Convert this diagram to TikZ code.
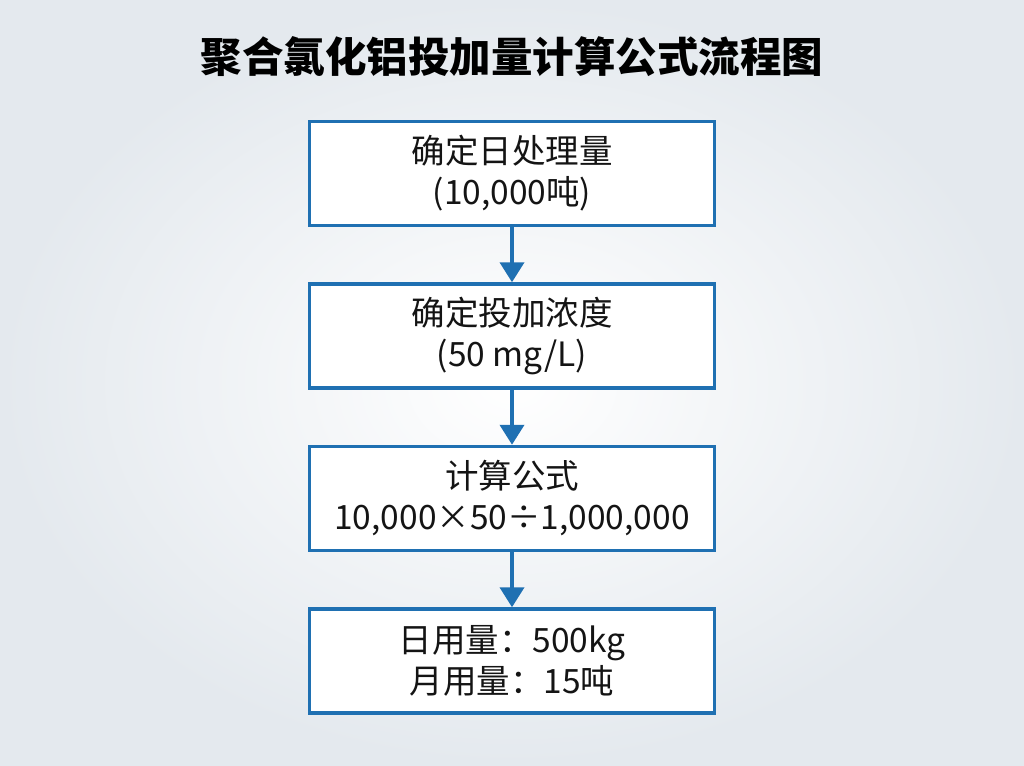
\documentclass[tikz,border=0pt]{standalone}
\usepackage{fontspec}
\newfontfamily\cjk{Noto Sans CJK SC}
\usepackage{tikz}
\usetikzlibrary{arrows.meta,positioning}
\definecolor{flowblue}{RGB}{31,112,178}
\definecolor{flowtext}{RGB}{20,20,20}
\definecolor{bgedge}{RGB}{228,233,238}
\tikzset{
  flow_text/.style = {align=center, inner sep=0pt, text centered,
    font=\cjk\fontsize{33.5}{41}\selectfont, text=flowtext},
  flow_box/.style = {flow_text, rectangle, draw=flowblue, line width=3.5pt,
    fill=white, minimum width=405pt, minimum height=104pt},% step box
  flow_title/.style = {flow_text, font=\cjk\bfseries\fontsize{41.5}{48}\selectfont,
    text=black}% heading
}
\begin{document}
\begin{tikzpicture}[x=1pt,y=-1pt,node distance=55pt,
  -{Triangle[width=24pt,length=20pt]},line width=4pt,draw=flowblue]
\useasboundingbox (0,0) rectangle (1024,765);
\shade[inner color=white,outer color=bgedge,draw=none] (0,0) rectangle (1024,765);
\node [flow_title] (title) at (512,57) {聚合氯化铝投加量计算公式流程图};
\node [flow_box] (daily) at (512,173.5) {确定日处理量\\(10,000吨)};
\node [flow_box, below=of daily] (dose) {确定投加浓度\\(50 mg/L)};
\node [flow_box, below=of dose] (formula) {计算公式\\10,000×50÷1,000,000};
\node [flow_box, below=of formula] (result) {日用量：500kg\\月用量：15吨};
% connectors
\draw [flowblue] (daily) -- (dose);
\draw [flowblue] (dose) -- (formula);
\draw [flowblue] (formula) -- (result);
\end{tikzpicture}
\end{document}
